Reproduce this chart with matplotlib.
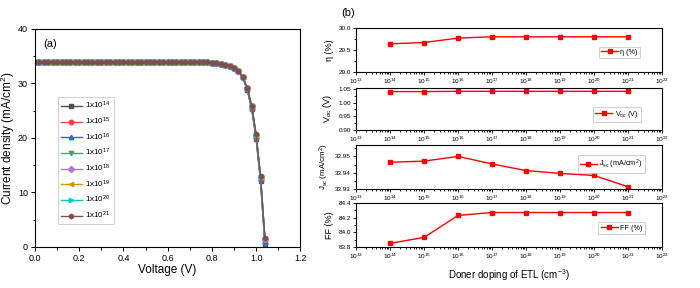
import numpy as np
import matplotlib
matplotlib.use("Agg")
from matplotlib import pyplot as plt
from matplotlib.ticker import MultipleLocator, AutoMinorLocator, LogLocator, NullFormatter

plt.rcParams['font.family'] = ['Liberation Sans', 'DejaVu Sans']
plt.rcParams['mathtext.fontset'] = 'custom'
plt.rcParams['mathtext.rm'] = 'Liberation Sans'
plt.rcParams['mathtext.it'] = 'Liberation Sans:italic'

# ---- panel (a): J-V curves ----
voltage = np.linspace(0, 1.04, 53)

# shared part of the curve, V = 0.00 ... 0.94
j_head = [33.94, 33.94, 33.94, 33.94, 33.94, 33.94, 33.94, 33.94, 33.94, 33.94,
          33.94, 33.94, 33.94, 33.94, 33.94, 33.94, 33.94, 33.94, 33.94, 33.94,
          33.94, 33.94, 33.94, 33.94, 33.94, 33.94, 33.94, 33.94, 33.94, 33.94,
          33.94, 33.94, 33.94, 33.94, 33.94, 33.94,
          33.92, 33.90, 33.88, 33.85, 33.80, 33.72, 33.62, 33.47, 33.24, 32.88,
          32.30, 31.10]

# V = 0.96, 0.98, 1.00, 1.02, 1.04 for each doping
j_tail_14 = [28.8, 25.3, 19.9, 12.1, 0.6]
j_tail_15 = [28.9, 25.4, 20.0, 12.2, 0.7]
j_tail_16 = [29.0, 25.6, 20.3, 12.5, 0.9]
j_tail_17 = [29.1, 25.8, 20.6, 12.9, 1.4]
j_tail_18 = [29.1, 25.8, 20.6, 12.9, 1.4]
j_tail_19 = [29.1, 25.8, 20.6, 12.9, 1.4]
j_tail_20 = [29.1, 25.8, 20.6, 12.9, 1.4]
j_tail_21 = [29.2, 25.9, 20.7, 13.1, 1.7]

jv_labels = ["1x10$^{14}$", "1x10$^{15}$", "1x10$^{16}$", "1x10$^{17}$",
             "1x10$^{18}$", "1x10$^{19}$", "1x10$^{20}$", "1x10$^{21}$"]
jv_tails = [j_tail_14, j_tail_15, j_tail_16, j_tail_17,
            j_tail_18, j_tail_19, j_tail_20, j_tail_21]

colors = ['#515151', '#F14040', '#1A6FDF', '#37AD6B',
          '#B177DE', '#CC9900', '#00CBCC', '#7D4E4E']
markers = ['s', 'o', '^', 'v', 'D', '<', '>', 'h']

# ---- panel (b): parameters vs doping ----
doping = [1e14, 1e15, 1e16, 1e17, 1e18, 1e19, 1e20, 1e21]
eta = [29.64, 29.67, 29.77, 29.80, 29.80, 29.80, 29.80, 29.80]
voc = [1.040, 1.040, 1.041, 1.041, 1.041, 1.041, 1.041, 1.041]
jsc = [33.9464, 33.9471, 33.9500, 33.9454, 33.9413, 33.9396, 33.9383, 33.9314]
ff = [83.85, 83.93, 84.23, 84.27, 84.27, 84.27, 84.27, 84.27]


fig = plt.figure(figsize=(7, 2.88), dpi=100)

# (a)
ax = fig.add_axes([0.05, 0.1424, 0.379, 0.757])
for i in range(len(jv_labels)):
    J = j_head + jv_tails[i]
    ax.plot(voltage, J, color=colors[i], marker=markers[i], markersize=3.2,
            lw=1.0, label=jv_labels[i])
ax.set_xlim(0, 1.2)
ax.set_ylim(0, 40)
ax.xaxis.set_major_locator(MultipleLocator(0.2))
ax.xaxis.set_minor_locator(MultipleLocator(0.1))
ax.yaxis.set_major_locator(MultipleLocator(10))
ax.yaxis.set_minor_locator(MultipleLocator(5))
ax.xaxis.set_major_formatter(matplotlib.ticker.FormatStrFormatter('%.1f'))
ax.tick_params(which='both', direction='out', labelsize=6.5, width=0.7, pad=2)
ax.tick_params(which='major', length=3)
ax.tick_params(which='minor', length=1.8)
for s in ax.spines.values():
    s.set_linewidth(0.8)
ax.set_xlabel("Voltage (V)", fontsize=8.5, labelpad=1)
ax.set_ylabel("Current density (mA/cm$^2$)", fontsize=8.5, labelpad=1)
ax.text(0.03, 0.93, "(a)", transform=ax.transAxes, fontsize=8, va='center')
leg = ax.legend(loc='lower left', bbox_to_anchor=(0.07, 0.085), fontsize=5.8,
                frameon=True, fancybox=False, edgecolor='#bbbbbb',
                handlelength=2.6, labelspacing=0.55, borderpad=0.4,
                handletextpad=0.4)
leg.get_frame().set_linewidth(0.6)

# (b)
fig.text(0.487, 0.955, "(b)", fontsize=8, va='center')

panels = [
    ([0.5086, 0.75, 0.437, 0.1528], eta, (29.0, 30.0), [29.0, 29.5, 30.0], '%.1f',
     "η (%)", 6.5, (0.94, 0.66)),
    ([0.5086, 0.5486, 0.437, 0.1458], voc, (0.90, 1.053), [0.90, 0.95, 1.00, 1.05], '%.2f',
     "V$_{\\rm oc}$ (V)", 6.5, (0.942, 0.645)),
    ([0.5086, 0.34375, 0.437, 0.1528], jsc, (33.93, 33.957), [33.93, 33.94, 33.95], '%.2f',
     "J$_{\\rm sc}$ (mA/cm$^2$)", 5.7, (0.955, 0.845)),
    ([0.5086, 0.1424, 0.437, 0.1528], ff, (83.8, 84.4), [83.8, 84.0, 84.2, 84.4], '%.1f',
     "FF (%)", 6.5, (0.955, 0.64)),
]

for rect, vals, ylim, yticks, fmt, ylab, ylab_fs, anchor in panels:
    a = fig.add_axes(rect)
    a.plot(doping, vals, color='#FF0000', marker='s', markersize=3.5, lw=1.0,
           label=ylab)
    a.set_xscale('log')
    a.set_xlim(1e13, 1e22)
    a.set_ylim(*ylim)
    a.set_yticks(yticks)
    a.yaxis.set_major_formatter(matplotlib.ticker.FormatStrFormatter(fmt))
    a.yaxis.set_minor_locator(AutoMinorLocator(2))
    a.xaxis.set_major_locator(LogLocator(base=10, numticks=20))
    a.xaxis.set_minor_locator(LogLocator(base=10, subs=np.arange(2, 10), numticks=20))
    a.xaxis.set_minor_formatter(NullFormatter())
    a.tick_params(which='both', direction='out', labelsize=4.6, width=0.6, pad=1.2)
    a.tick_params(which='major', length=2.5)
    a.tick_params(which='minor', length=1.5)
    for s in a.spines.values():
        s.set_linewidth(0.8)
    a.set_ylabel(ylab, fontsize=ylab_fs, labelpad=3)
    lg = a.legend(loc='upper right', bbox_to_anchor=anchor, fontsize=5.2,
                  frameon=True, fancybox=False, edgecolor='#bbbbbb',
                  handlelength=2.4, borderpad=0.3, handletextpad=0.3)
    lg.get_frame().set_linewidth(0.6)
    last = a

last.set_xlabel("Doner doping of ETL (cm$^{-3}$)", fontsize=7, labelpad=4)

fig.savefig("out.png", dpi=100)
